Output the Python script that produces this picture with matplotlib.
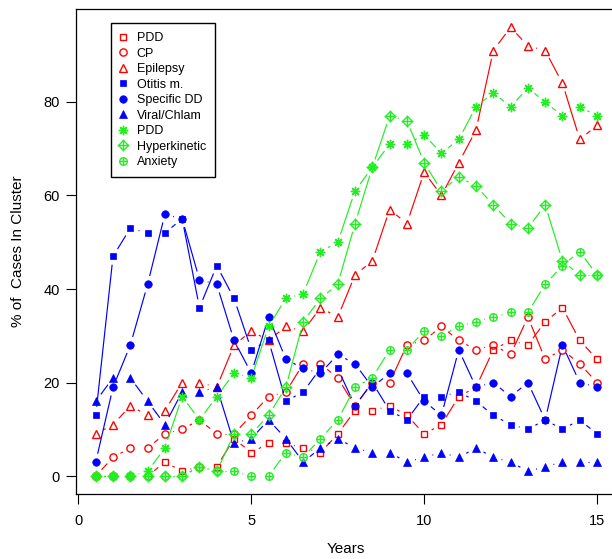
import matplotlib
matplotlib.use('Agg')
import matplotlib.pyplot as plt
import numpy as np
from matplotlib.collections import LineCollection
from matplotlib.lines import Line2D
from matplotlib.legend_handler import HandlerTuple

plt.rcParams['font.family'] = ['Liberation Sans', 'DejaVu Sans']

years = [0.5, 1.0, 1.5, 2.0, 2.5, 3.0, 3.5, 4.0, 4.5, 5.0,
         5.5, 6.0, 6.5, 7.0, 7.5, 8.0, 8.5, 9.0, 9.5, 10.0,
         10.5, 11.0, 11.5, 12.0, 12.5, 13.0, 13.5, 14.0, 14.5, 15.0]

pdd_red = [0, 0, 0, 0, 3, 1, 2, 2, 8, 5,
           7, 7, 6, 5, 9, 14, 14, 15, 13, 9,
           11, 17, 19, 27, 29, 28, 33, 36, 29, 25]
cp = [0, 4, 6, 6, 9, 10, 12, 9, 9, 13,
      17, 18, 24, 24, 21, 15, 20, 20, 28, 29,
      32, 29, 27, 28, 26, 34, 25, 27, 24, 20]
epilepsy = [9, 11, 15, 13, 14, 20, 20, 19, 28, 31,
            29, 32, 31, 36, 34, 43, 46, 57, 54, 65,
            60, 67, 74, 91, 96, 92, 91, 84, 72, 75]
otitis = [13, 47, 53, 52, 52, 55, 36, 45, 38, 27,
          29, 16, 18, 23, 23, 15, 20, 14, 12, 17,
          17, 18, 16, 13, 11, 10, 12, 10, 12, 9]
specific_dd = [3, 19, 28, 41, 56, 55, 42, 41, 29, 22,
               34, 25, 23, 22, 26, 24, 19, 22, 22, 16,
               13, 27, 19, 20, 17, 20, 12, 28, 20, 19]
viral = [16, 21, 21, 16, 11, 18, 18, 19, 7, 8,
         12, 8, 3, 6, 8, 6, 5, 5, 3, 4,
         5, 4, 6, 4, 3, 1, 2, 3, 3, 3]
pdd_green = [0, 0, 0, 1, 6, 17, 12, 17, 22, 21,
             32, 38, 39, 48, 50, 61, 66, 71, 71, 73,
             69, 72, 79, 82, 79, 83, 80, 77, 79, 77]
hyperkinetic = [0, 0, 0, 0, 0, 0, 2, 1, 9, 9,
                13, 19, 33, 38, 41, 54, 66, 77, 76, 67,
                61, 64, 62, 58, 54, 53, 58, 46, 43, 43]
anxiety = [0, 0, 0, 0, 0, 0, 2, 1, 1, 0,
           0, 5, 4, 8, 12, 19, 21, 27, 27, 31,
           30, 32, 33, 34, 35, 35, 41, 45, 48, 43]

labels = ['PDD', 'CP', 'Epilepsy', 'Otitis m.', 'Specific DD', 'Viral/Chlam',
          'PDD', 'Hyperkinetic', 'Anxiety']
x_ticks = [0, 5, 10, 15]
y_ticks = [0, 20, 40, 60, 80]

RED = '#FF0000'
BLUE = '#0000FF'
GREEN = '#22EE22'

fig = plt.figure(figsize=(6.12, 5.59), dpi=100)
ax = fig.add_axes([0.1237, 0.1163, 0.8846, 0.8672])
ax.set_xlim(-0.08, 15.58)
ax.set_ylim(-3.84, 99.84)


def gapped_line(ax, x, y, color, ls='-', lw=0.85, gap_px=8.5):
    pts = ax.transData.transform(np.column_stack([x, y]).astype(float))
    inv = ax.transData.inverted()
    segs = []
    for p0, p1 in zip(pts[:-1], pts[1:]):
        v = p1 - p0
        L = np.hypot(v[0], v[1])
        if L > 2 * gap_px:
            a = p0 + v * gap_px / L
            b = p1 - v * gap_px / L
            segs.append(inv.transform(np.array([a, b])))
    lc = LineCollection(segs, colors=color, linewidths=lw, linestyles=ls,
                        capstyle='butt')
    ax.add_collection(lc)


def mk(marker, ms, color, filled=False, mew=1.0):
    return dict(marker=marker, markersize=ms,
                markerfacecolor=color if filled else 'none',
                markeredgecolor=color, markeredgewidth=mew)

series = [
    (pdd_red, RED, [mk('s', 4.8, RED)]),
    (cp, RED, [mk('o', 5.2, RED)]),
    (epilepsy, RED, [mk('^', 6.3, RED)]),
    (otitis, BLUE, [mk('s', 5.0, BLUE, True, 0.5)]),
    (specific_dd, BLUE, [mk('o', 5.4, BLUE, True, 0.5)]),
    (viral, BLUE, [mk('^', 6.3, BLUE, True, 0.5)]),
    (pdd_green, GREEN, [mk((8, 2, 0), 6.8, GREEN)]),
    (hyperkinetic, GREEN, [mk('D', 5.0, GREEN), mk('+', 8.0, GREEN)]),
    (anxiety, GREEN, [mk('o', 5.4, GREEN), mk('+', 5.4, GREEN)]),
]

handles = []
for vals, color, layers in series:
    gapped_line(ax, years, vals, color)
    hs = []
    for lay in layers:
        ax.plot(years, vals, linestyle='none', **lay)
        hs.append(Line2D([], [], linestyle='none', **lay))
    handles.append(tuple(hs))

leg = ax.legend(handles, labels, handler_map={tuple: HandlerTuple(ndivide=1)},
                loc='upper left', bbox_to_anchor=(110.7 / 612, 1 - 22.7 / 559),
                bbox_transform=fig.transFigure, fontsize=9, frameon=True,
                fancybox=False, framealpha=1, edgecolor='black', borderpad=0.75,
                handlelength=0.46, handletextpad=0.87, labelspacing=0.28,
                borderaxespad=0)
leg.get_frame().set_linewidth(1.0)

ax.set_xticks(x_ticks)
ax.set_yticks(y_ticks)
ax.tick_params(direction='out', length=7, width=0.8, labelsize=10.5, colors='black')
ax.tick_params(axis='x', pad=7.5)
ax.tick_params(axis='y', pad=4.5)
for s in ax.spines.values():
    s.set_linewidth(0.9)
    s.set_color('black')

fig.text(346 / 612, 1 - 549 / 559, 'Years', ha='center', va='center', fontsize=11)
fig.text(18 / 612, 1 - 251.6 / 559, '% of  Cases In Cluster', ha='center',
         va='center', rotation=90, fontsize=11)

fig.savefig('out.png', dpi=100)
